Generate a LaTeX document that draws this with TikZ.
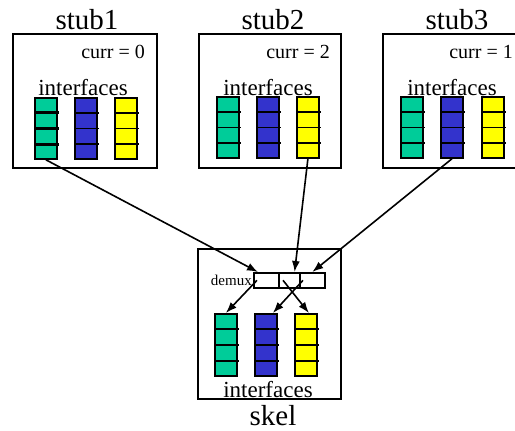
\documentclass[tikz,border=0pt]{standalone}
\usepackage{fontspec}
\setmainfont{Liberation Serif}
\usetikzlibrary{arrows.meta,calc}

\definecolor{ifgreen}{RGB}{0,204,153}
\definecolor{ifblue}{RGB}{51,51,204}
\definecolor{ifyellow}{RGB}{255,255,0}

\tikzset{
  box/.style={draw, line width=2pt, anchor=north west, inner sep=0pt, minimum width=144pt, minimum height=134pt},
  slot/.style={draw, line width=1.8pt, anchor=north west, inner sep=0pt, minimum width=22pt, minimum height=61pt},
  cell/.style={draw, line width=1.6pt, anchor=north west, inner sep=0pt, minimum height=15pt},
  link/.style={line width=1.6pt, -{Latex[length=11pt,width=8pt]}},
  title/.style={font=\fontsize{29}{32}\selectfont, anchor=base, inner sep=0pt},
  iflabel/.style={font=\fontsize{23}{26}\selectfont, anchor=base, inner sep=0pt},
  currlabel/.style={font=\fontsize{20}{23}\selectfont, anchor=base east, inner sep=0pt}
}

% three separators across one interface column
\newcommand{\slotlines}[2][1.6pt]{%
  \foreach \f in {0.25,0.5,0.75}
    \draw[line width=#1] ($(#2.north west)!\f!(#2.south west)$) -- ++(25,0);
}

\begin{document}
\begin{tikzpicture}[x=1pt, y=-1pt]
\useasboundingbox (0,0) rectangle (515,431);
\clip (0,0) rectangle (515,431);

% stubs
\node[box] (stub1) at (12,33) {};
\node[box, minimum width=142pt] (stub2) at (198,33) {};
\node[box] (stub3) at (382,33) {};
\node[title] (t1) at (87,29) {stub1};
\node[title] (t2) at (273,29) {stub2};
\node[title] (t3) at (457,29) {stub3};
\node[currlabel] (c1) at (145,58) {curr = 0};
\node[currlabel] (c2) at (330,58) {curr = 2};
\node[currlabel] (c3) at (513,58) {curr = 1};
\node[iflabel] (i1) at (83,95) {interfaces};
\node[iflabel] (i2) at (268,95) {interfaces};
\node[iflabel] (i3) at (452,95) {interfaces};

\node[slot, fill=ifgreen] (s1g) at (34,97) {};
\node[slot, fill=ifblue] (s1b) at (74,97) {};
\node[slot, fill=ifyellow] (s1y) at (114,97) {};
\node[slot, fill=ifgreen] (s2g) at (216,96) {};
\node[slot, fill=ifblue] (s2b) at (256,96) {};
\node[slot, fill=ifyellow] (s2y) at (296,96) {};
\node[slot, fill=ifgreen] (s3g) at (400,96) {};
\node[slot, fill=ifblue] (s3b) at (440,96) {};
\node[slot, fill=ifyellow] (s3y) at (481,96) {};
\slotlines[2.8pt]{s1g}
\slotlines{s1b}
\slotlines{s1y}
\slotlines{s2g}
\slotlines{s2b}
\slotlines{s2y}
\slotlines{s3g}
\slotlines{s3b}
\slotlines{s3y}

% skeleton
\node[box, minimum width=143pt, minimum height=150pt] (skel) at (197,248) {};
\node[title] (ts) at (273,425) {skel};
\node[iflabel] (is) at (268,397) {interfaces};
\node[cell, minimum width=25pt] (dmx1) at (253,272) {};
\node[cell, minimum width=21pt] (dmx2) at (278,272) {};
\node[cell, minimum width=25pt] (dmx3) at (299,272) {};
\node[font=\fontsize{15}{17}\selectfont, anchor=base east, inner sep=0pt] (dl) at (252,285) {demux};

\node[slot, fill=ifgreen, minimum height=62pt] (kg) at (214,313) {};
\node[slot, fill=ifblue, minimum height=62pt] (kb) at (254,313) {};
\node[slot, fill=ifyellow, minimum height=62pt] (ky) at (294,313) {};
\slotlines{kg}
\slotlines{kb}
\slotlines{ky}

% stub -> demux
\draw[link] (s1g.south) -- ([xshift=5pt]dmx1.north west);
\draw[link] (s2y.south) -- ([xshift=-6pt]dmx2.north east);
\draw[link] (s3b.south) -- (dmx3.north);

% demux -> interfaces
\draw[link] ([xshift=4pt]dmx1.west) -- (kg.north);
\draw[link] ([xshift=5pt]dmx2.west) -- ([xshift=3pt]ky.north);
\draw[link] ([xshift=4pt]dmx3.west) -- ([xshift=7pt]kb.north);
\end{tikzpicture}
\end{document}
